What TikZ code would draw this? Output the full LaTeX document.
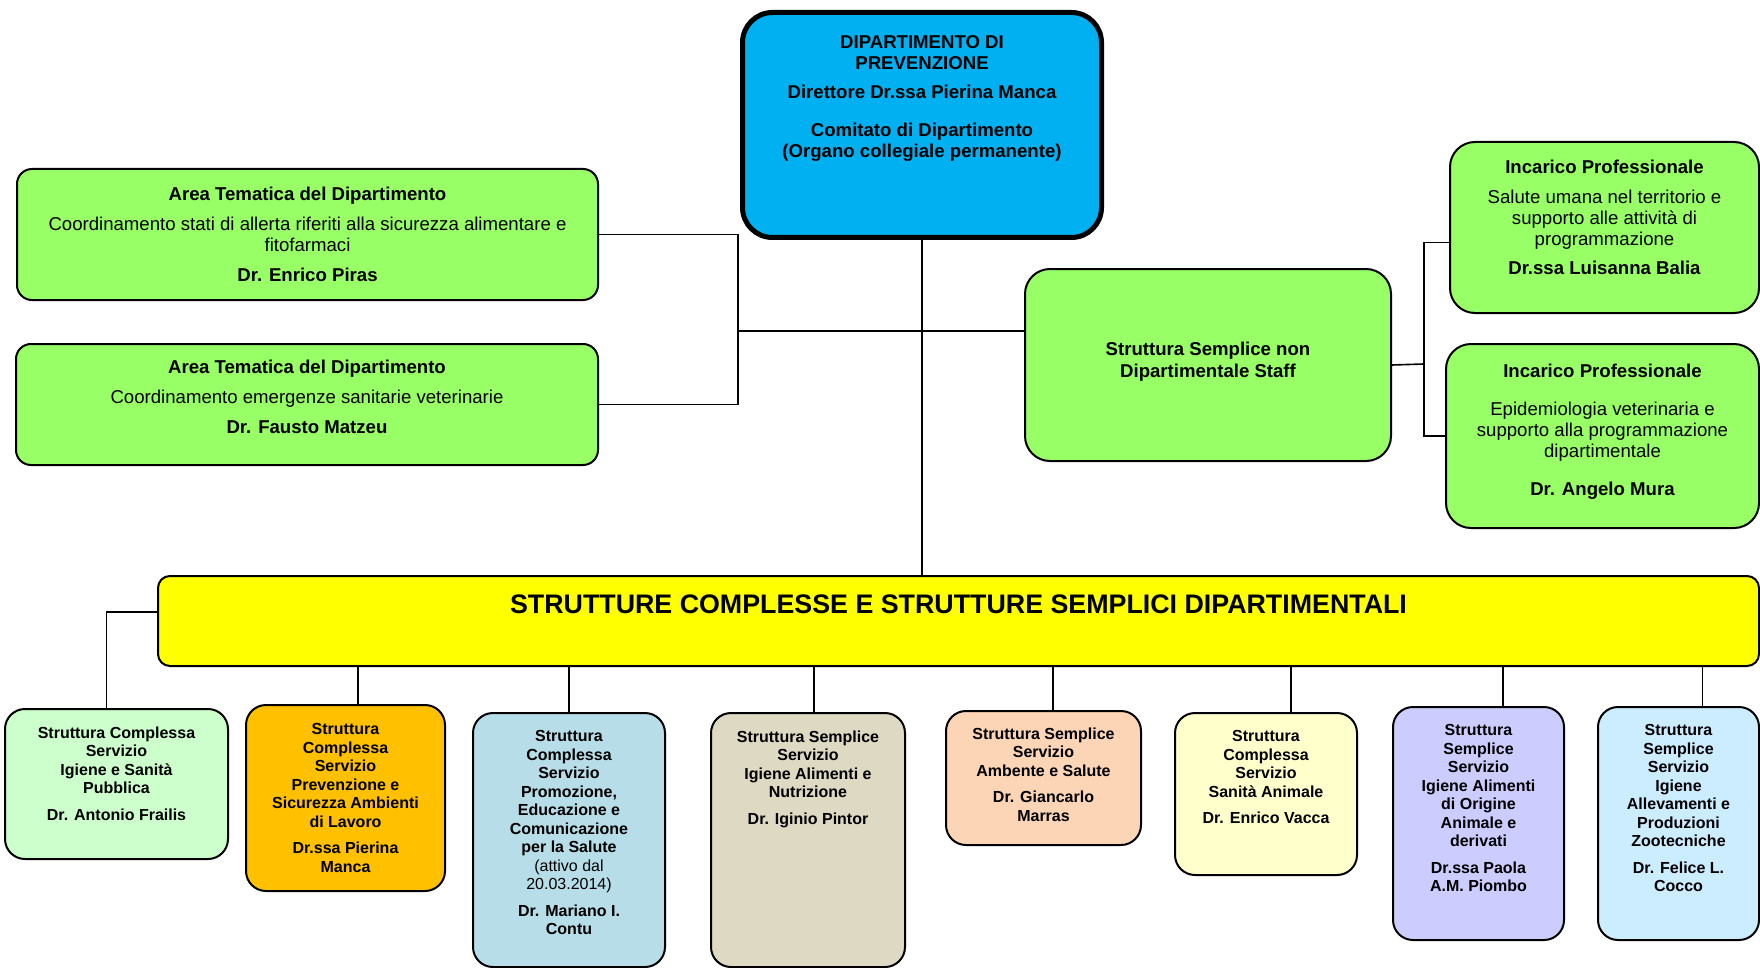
\documentclass[tikz,border=0pt]{standalone}
\usepackage{fontspec}
\setmainfont{Liberation Sans}
\usetikzlibrary{positioning}

\definecolor{dipblue}{HTML}{00B0F0}
\definecolor{areagreen}{HTML}{99FF66}
\definecolor{baryellow}{HTML}{FFFF00}
\definecolor{mint}{HTML}{CCFFCC}
\definecolor{amber}{HTML}{FFC000}
\definecolor{powder}{HTML}{B7DEE8}
\definecolor{khaki}{HTML}{DDD9C3}
\definecolor{peach}{HTML}{FBD5B5}
\definecolor{cream}{HTML}{FFFFCC}
\definecolor{lavender}{HTML}{CCCCFF}
\definecolor{skyblue}{HTML}{CCECFF}

\tikzset{
  box/.style={draw, line width=2pt, rounded corners=20pt, anchor=north west, inner sep=0pt},
  toptext/.style={align=center, inner sep=0pt, font=\fontsize{18.6}{21}\selectfont},
  subtext/.style={align=center, inner sep=0pt, font=\bfseries\fontsize{16}{18.5}\selectfont},
  link/.style={draw, line width=1.6pt},
}

\begin{document}
\begin{tikzpicture}[x=1pt,y=-1pt]
  \useasboundingbox (0,0) rectangle (1760,968);

  %% department
  \node[box, fill=dipblue, line width=5pt, rounded corners=30pt,
        minimum width=359pt, minimum height=225pt] (dip) at (740,10) {};
  \node[toptext, font=\bfseries\fontsize{18.6}{21}\selectfont, below=25pt of dip.north] (dip-t)
    {DIPARTIMENTO DI\\PREVENZIONE\\[8pt]Direttore Dr.ssa Pierina Manca\\[17pt]%
     Comitato di Dipartimento\\(Organo collegiale permanente)};

  %% area tematica boxes
  \node[box, fill=areagreen, rounded corners=15pt, minimum width=581pt, minimum height=131pt] (area1) at (16,168) {};
  \node[toptext, below=19pt of area1.north] (area1-t)
    {\textbf{Area Tematica del Dipartimento}\\[9pt]%
     Coordinamento stati di allerta riferiti alla sicurezza alimentare e\\fitofarmaci\\[9pt]%
     \textbf{Dr. Enrico Piras}};

  \node[box, fill=areagreen, rounded corners=15pt, minimum width=582pt, minimum height=121pt] (area2) at (15,343) {};
  \node[toptext, below=17pt of area2.north] (area2-t)
    {\textbf{Area Tematica del Dipartimento}\\[9pt]%
     Coordinamento emergenze sanitarie veterinarie\\[9pt]%
     \textbf{Dr. Fausto Matzeu}};

  %% staff
  \node[box, fill=areagreen, rounded corners=25pt, minimum width=366pt, minimum height=192pt] (staff) at (1024,268) {};
  \node[toptext, font=\bfseries\fontsize{18.6}{22}\selectfont, below=74pt of staff.north] (staff-t)
    {Struttura Semplice non\\Dipartimentale Staff};

  \node[box, fill=areagreen, rounded corners=25pt, minimum width=309pt, minimum height=171pt] (inc1) at (1449,141) {};
  \node[toptext, below=19pt of inc1.north] (inc1-t)
    {\textbf{Incarico Professionale}\\[9pt]%
     Salute umana nel territorio e\\supporto alle attività di\\programmazione\\[8pt]%
     \textbf{Dr.ssa Luisanna Balia}};

  \node[box, fill=areagreen, rounded corners=25pt, minimum width=313pt, minimum height=184pt] (inc2) at (1445,343) {};
  \node[toptext, below=21pt of inc2.north] (inc2-t)
    {\textbf{Incarico Professionale}\\[17pt]%
     Epidemiologia veterinaria e\\supporto alla programmazione\\dipartimentale\\[17pt]%
     \textbf{Dr. Angelo Mura}};

  %% strutture bar
  \node[box, fill=baryellow, rounded corners=12pt, minimum width=1601pt, minimum height=90pt] (sc) at (157,575) {};
  \node[inner sep=0pt, font=\bfseries\fontsize{26.8}{30}\selectfont, below=20pt of sc.north] (sc-t)
    {STRUTTURE COMPLESSE E STRUTTURE SEMPLICI DIPARTIMENTALI};

  %% servizi
  \node[box, fill=mint, minimum width=223pt, minimum height=150pt] (b1) at (4,708) {};
  \node[subtext, below=18.5pt of b1.north] (b1-t)
    {Struttura Complessa\\Servizio\\Igiene e Sanità\\Pubblica\\[8pt]Dr. Antonio Frailis};

  \node[box, fill=amber, minimum width=199pt, minimum height=186pt] (b2) at (245,704) {};
  \node[subtext, below=19.5pt of b2.north] (b2-t)
    {Struttura\\Complessa\\Servizio\\Prevenzione e\\Sicurezza Ambienti\\di Lavoro\\[8pt]Dr.ssa Pierina\\Manca};

  \node[box, fill=powder, minimum width=192pt, minimum height=254pt] (b3) at (472,712) {};
  \node[subtext, below=18.5pt of b3.north] (b3-t)
    {Struttura\\Complessa\\Servizio\\Promozione,\\Educazione e\\Comunicazione\\per la Salute\\%
     \mdseries(attivo dal\\\mdseries 20.03.2014)\\[8pt]Dr. Mariano I.\\Contu};

  \node[box, fill=khaki, minimum width=194pt, minimum height=254pt] (b4) at (710,712) {};
  \node[subtext, below=18.5pt of b4.north] (b4-t)
    {Struttura Semplice\\Servizio\\Igiene Alimenti e\\Nutrizione\\[8pt]Dr. Iginio Pintor};

  \node[box, fill=peach, minimum width=195pt, minimum height=134pt] (b5) at (945,710) {};
  \node[subtext, below=17.5pt of b5.north] (b5-t)
    {Struttura Semplice\\Servizio\\Ambente e Salute\\[8pt]Dr. Giancarlo\\Marras};

  \node[box, fill=cream, minimum width=182pt, minimum height=162pt] (b6) at (1174,712) {};
  \node[subtext, below=18.5pt of b6.north] (b6-t)
    {Struttura\\Complessa\\Servizio\\Sanità Animale\\[8pt]Dr. Enrico Vacca};

  \node[box, fill=lavender, minimum width=171pt, minimum height=233pt] (b7) at (1392,706) {};
  \node[subtext, below=18.5pt of b7.north] (b7-t)
    {Struttura\\Semplice\\Servizio\\Igiene Alimenti\\di Origine\\Animale e\\derivati\\[8pt]Dr.ssa Paola\\A.M. Piombo};

  \node[box, fill=skyblue, minimum width=161pt, minimum height=233pt] (b8) at (1597,706) {};
  \node[subtext, below=18.5pt of b8.north] (b8-t)
    {Struttura\\Semplice\\Servizio\\Igiene\\Allevamenti e\\Produzioni\\Zootecniche\\[8pt]Dr. Felice L.\\Cocco};

  %% connectors
  \coordinate (jl) at (738,331);
  \coordinate (jr) at (1424,364);
  \draw[link] (dip.south) -- (dip.south |- sc.north);
  \draw[link] (area1.east) -| (jl) |- (area2.east);
  \draw[link] (jl) -- (jl -| staff.west);
  \draw[link] (staff.east) -- (jr);
  \draw[link] ([yshift=-15pt]inc1.west) -| (jr) |- (inc2.west);
  \draw[link] ([yshift=9pt]sc.west) -| ([xshift=-10pt]b1.north);
  \foreach \bn/\dx in {b2/12.5,b3/0,b4/6,b5/9.5,b6/25,b7/24.5,b8/24}
    \draw[link] ([xshift=\dx pt]\bn.north) -- ([xshift=\dx pt]\bn.north |- sc.south);
\end{tikzpicture}
\end{document}
